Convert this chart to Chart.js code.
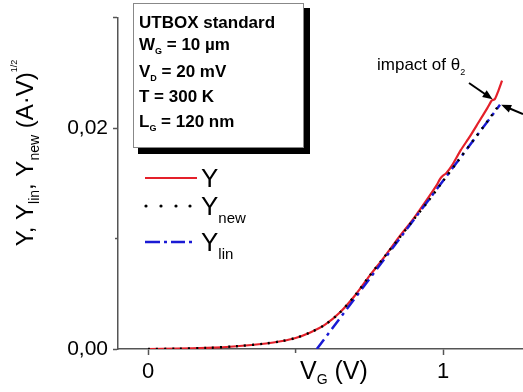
<!DOCTYPE html>
<html><head><meta charset="utf-8">
<script src="https://cdn.jsdelivr.net/npm/chart.js@4/dist/chart.umd.min.js"></script>
<style>html,body{margin:0;padding:0;background:#fff;}</style>
</head><body>
<canvas id="c" width="523" height="392"></canvas>
<script>
// ---- data ----
const vgY  = [0, 0.1, 0.2, 0.3, 0.4, 0.45, 0.5, 0.55, 0.6, 0.65, 0.7, 0.75, 0.8, 0.85, 0.9, 0.95, 0.98, 0.99, 1.0, 1.01, 1.03, 1.06, 1.09, 1.12, 1.15, 1.165, 1.175, 1.185, 1.2];
const yY   = [0, 0.00003, 0.0001, 0.00025, 0.0005, 0.0007, 0.001, 0.0015, 0.0022, 0.0033, 0.0048, 0.0066, 0.0083, 0.0101, 0.0118, 0.0137, 0.0149, 0.0154, 0.0157, 0.0159, 0.0166, 0.018, 0.0192, 0.0205, 0.0218, 0.0225, 0.0226, 0.0232, 0.0243];
const vgNew = [0, 0.1, 0.2, 0.3, 0.4, 0.45, 0.5, 0.55, 0.6, 0.65, 0.7, 0.75, 0.8, 0.85, 0.9, 0.95, 1.0, 1.05, 1.1, 1.15, 1.19];
const yNew  = [0, 0.00003, 0.0001, 0.00025, 0.0005, 0.0007, 0.001, 0.0015, 0.0022, 0.0033, 0.0048, 0.0066, 0.0083, 0.01, 0.0117, 0.0134, 0.0152, 0.017, 0.0188, 0.0206, 0.0221];
const vgLin = [0.572, 1.193];
const yLin  = [0, 0.0221];
const xTicks = [0, 0.5, 1];
const xMinor = [0.5];
const xTickLabels = {0: '0', 1: '1'};
const yTicks = [0, 0.01, 0.02, 0.03];
const yMinor = [0.01];
const yTickLabels = {0: '0,00', 0.02: '0,02'};
const seriesNames = ['Y', 'Y_new', 'Y_lin'];

const FAM = "'Liberation Sans', Arial, sans-serif";
Chart.defaults.font.family = FAM;
const AXC = '#555';

function pts(xs, ys){ return xs.map((x,i)=>({x, y: ys[i]})); }
function isMinor(list, v){ return list.some(m => Math.abs(m - v) < 1e-9); }

function rich(ctx, x, y, segs, weight){
  let cx = x;
  for (const s of segs){
    ctx.font = `${weight||'normal'} ${s.size}px ${FAM}`;
    ctx.fillText(s.t, cx, y + (s.dy||0));
    cx += ctx.measureText(s.t).width;
  }
  return cx;
}
function richWidth(ctx, segs, weight){
  let w = 0;
  for (const s of segs){ ctx.font = `${weight||'normal'} ${s.size}px ${FAM}`; w += ctx.measureText(s.t).width; }
  return w;
}
function arrow(ctx, x0, y0, x1, y1){
  const a = Math.atan2(y1-y0, x1-x0), L = 10, W = 4;
  ctx.beginPath(); ctx.moveTo(x0,y0); ctx.lineTo(x1 - Math.cos(a)*L*0.8, y1 - Math.sin(a)*L*0.8);
  ctx.lineWidth = 2; ctx.strokeStyle = '#000'; ctx.stroke();
  ctx.beginPath(); ctx.moveTo(x1,y1);
  ctx.lineTo(x1 - Math.cos(a)*L + Math.sin(a)*W, y1 - Math.sin(a)*L - Math.cos(a)*W);
  ctx.lineTo(x1 - Math.cos(a)*L - Math.sin(a)*W, y1 - Math.sin(a)*L + Math.cos(a)*W);
  ctx.closePath(); ctx.fillStyle = '#000'; ctx.fill();
}

const decor = {
  id: 'decor',
  afterDraw(chart){
    const ctx = chart.ctx, xs = chart.scales.x, ys = chart.scales.y;
    ctx.save();
    // minor ticks (short)
    ctx.strokeStyle = AXC; ctx.lineWidth = 1.5;
    for (const v of yMinor){ const py = ys.getPixelForValue(v); ctx.beginPath(); ctx.moveTo(ys.right - 3, py); ctx.lineTo(ys.right, py); ctx.stroke(); }
    for (const v of xMinor){ const px = xs.getPixelForValue(v); ctx.beginPath(); ctx.moveTo(px, xs.top); ctx.lineTo(px, xs.top + 4); ctx.stroke(); }
    ctx.textBaseline = 'alphabetic'; ctx.textAlign = 'left';
    // info box with shadow
    ctx.fillStyle = '#000'; ctx.fillRect(138, 8, 172, 146);
    ctx.fillStyle = '#fff'; ctx.fillRect(133, 3, 171, 145);
    ctx.strokeStyle = '#888'; ctx.lineWidth = 1; ctx.strokeRect(133.5, 3.5, 170, 144);
    ctx.fillStyle = '#000';
    rich(ctx, 139, 28, [{t:'UTBOX standard', size:17}], 'bold');
    rich(ctx, 139, 50, [{t:'W', size:17},{t:'G', size:9, dy:4},{t:' = 10 µm', size:17}], 'bold');
    rich(ctx, 139, 77, [{t:'V', size:17},{t:'D', size:9, dy:4},{t:' = 20 mV', size:17}], 'bold');
    rich(ctx, 139, 102, [{t:'T = 300 K', size:17}], 'bold');
    rich(ctx, 139, 127, [{t:'L', size:17},{t:'G', size:9, dy:4},{t:' = 120 nm', size:17}], 'bold');
    // legend
    const ds = chart.data.datasets;
    ctx.lineWidth = 2.2; ctx.strokeStyle = ds[0].borderColor;
    ctx.beginPath(); ctx.moveTo(145,178); ctx.lineTo(197,178); ctx.stroke();
    ctx.fillStyle = '#000';
    for (const dx of [146,161,176,190]) { ctx.beginPath(); ctx.arc(dx, 206, 1.6, 0, Math.PI*2); ctx.fill(); }
    ctx.strokeStyle = ds[2].borderColor; ctx.lineWidth = 2.5;
    ctx.beginPath(); ctx.moveTo(145,242); ctx.lineTo(160,242); ctx.moveTo(164,242); ctx.lineTo(167,242);
    ctx.moveTo(171,242); ctx.lineTo(185,242); ctx.moveTo(189,242); ctx.lineTo(192,242); ctx.stroke();
    ctx.fillStyle = '#000';
    rich(ctx, 201, 187, [{t:seriesNames[0], size:26}]);
    rich(ctx, 201, 215, [{t:'Y', size:26},{t:'new', size:15, dy:8}]);
    rich(ctx, 201, 251, [{t:'Y', size:26},{t:'lin', size:15, dy:8}]);
    // y axis title (rotated)
    const ysegs = [{t:'Y, Y', size:24},{t:'lin', size:14, dy:6},{t:', Y', size:24},{t:'new', size:14, dy:6},{t:' (A·V)', size:24},{t:'1/2', size:9, dy:-16}];
    const tw = richWidth(ctx, ysegs);
    ctx.save(); ctx.translate(33, 153 + tw/2); ctx.rotate(-Math.PI/2);
    rich(ctx, 0, 0, ysegs); ctx.restore();
    // x axis title
    rich(ctx, 300, 379, [{t:'V', size:25},{t:'G', size:14, dy:5},{t:' (V)', size:25}]);
    // annotation
    rich(ctx, 377, 70, [{t:'impact of θ', size:17},{t:'2', size:9, dy:5}]);
    const t1x = xs.getPixelForValue(1.168), t1y = ys.getPixelForValue(0.0226);
    const t2x = xs.getPixelForValue(1.197), t2y = ys.getPixelForValue(0.0221);
    arrow(ctx, 469, 83, t1x, t1y);
    arrow(ctx, 523, 114, t2x, t2y);
    ctx.restore();
  }
};

new Chart(document.getElementById('c'), {
  type: 'line',
  data: {
    datasets: [
      { label: seriesNames[0], data: pts(vgY, yY), borderColor: '#e4202a', borderWidth: 2.2, pointRadius: 0, tension: 0.2, order: 3 },
      { label: seriesNames[1], data: pts(vgNew, yNew), borderColor: '#000', borderWidth: 2.4, borderDash: [2,6], pointRadius: 0, tension: 0.3, order: 1 },
      { label: seriesNames[2], data: pts(vgLin, yLin), borderColor: '#1a1ad4', borderWidth: 2.5, borderDash: [12,5,3,5], pointRadius: 0, order: 2 }
    ]
  },
  options: {
    responsive: false, animation: false, devicePixelRatio: 1,
    layout: { padding: { top: 14, left: 0, right: 0, bottom: 0 } },
    plugins: { legend: { display: false }, tooltip: { enabled: false } },
    scales: {
      x: {
        type: 'linear', min: -0.102, max: 1.271,
        afterBuildTicks: s => { s.ticks = xTicks.map(v => ({value: v})); },
        afterFit: s => { s.height = 43; },
        grid: { drawOnChartArea: false, drawTicks: true, tickLength: 6, tickWidth: 1.5,
          color: c => (c.tick && isMinor(xMinor, c.tick.value)) ? 'rgba(0,0,0,0)' : AXC },
        border: { display: true, color: AXC, width: 1.5 },
        ticks: { color: '#000', font: { size: 22 }, padding: 4, maxRotation: 0, autoSkip: false,
          callback: v => (xTickLabels[v] !== undefined ? xTickLabels[v] : '') }
      },
      y: {
        type: 'linear', min: 0, max: 0.03,
        afterBuildTicks: s => { s.ticks = yTicks.map(v => ({value: v})); },
        afterFit: s => { s.width = 118; },
        grid: { drawOnChartArea: false, drawTicks: true, tickLength: 5, tickWidth: 1.5,
          color: c => (c.tick && isMinor(yMinor, c.tick.value)) ? 'rgba(0,0,0,0)' : AXC },
        border: { display: true, color: AXC, width: 1.5 },
        ticks: { color: '#000', font: { size: 21 }, padding: 5, autoSkip: false,
          callback: v => { const k = Math.round(v*1000)/1000; return yTickLabels[k] !== undefined ? yTickLabels[k] : ''; } }
      }
    }
  },
  plugins: [decor]
});
</script>
</body></html>
